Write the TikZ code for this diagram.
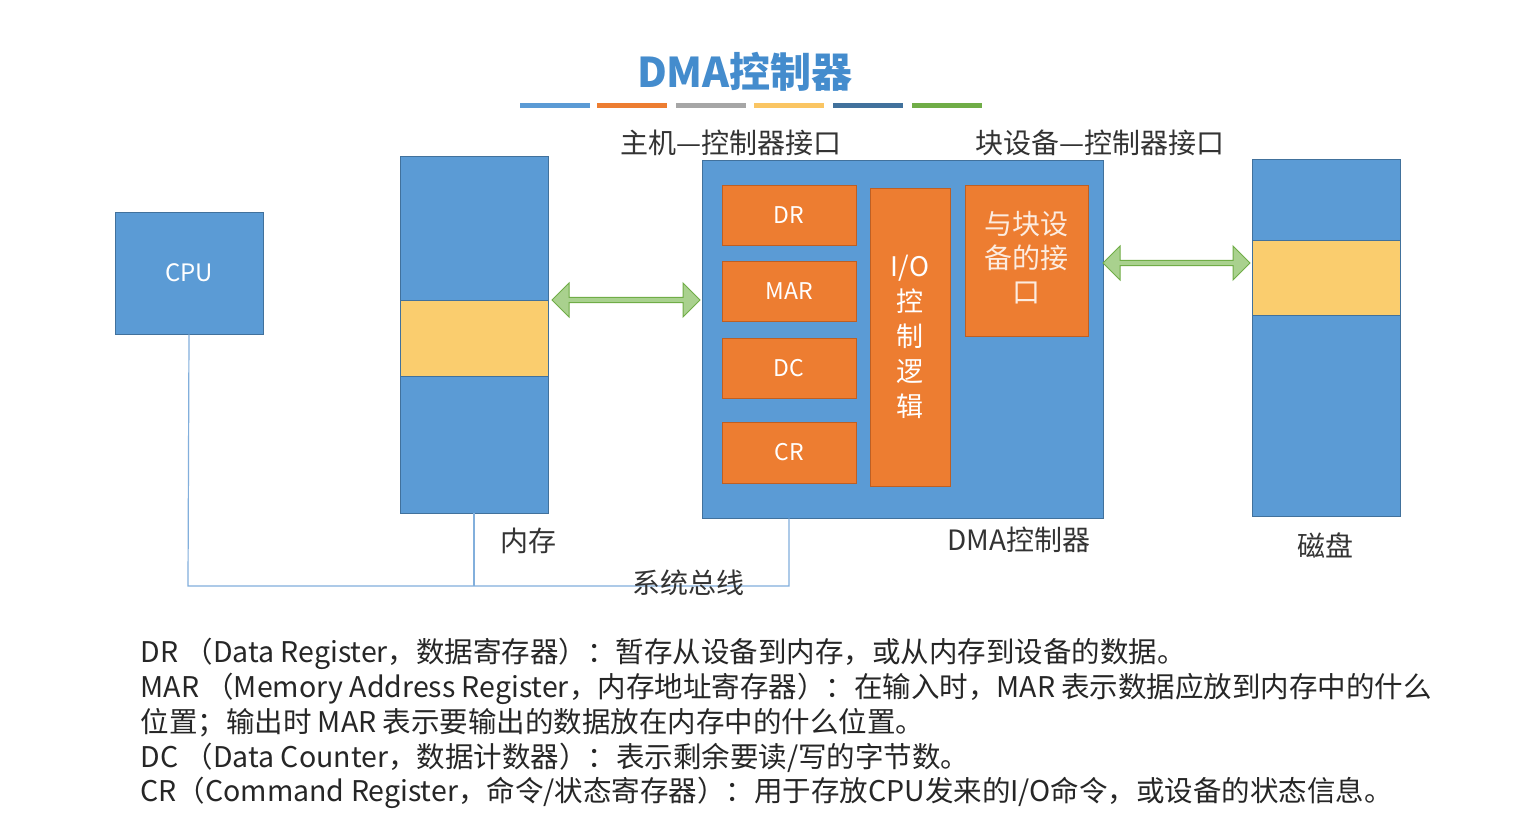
\documentclass[tikz,border=0pt]{standalone}
\usepackage{fontspec}
\setmainfont{Noto Sans CJK SC}
\usetikzlibrary{shapes.arrows}
\definecolor{bl}{RGB}{91,155,213}
\definecolor{blb}{RGB}{65,113,156}
\definecolor{og}{RGB}{237,125,49}
\definecolor{ogb}{RGB}{190,95,35}
\definecolor{yl}{RGB}{250,205,110}
\definecolor{gr}{RGB}{169,209,142}
\definecolor{grb}{RGB}{112,173,71}
\definecolor{tt}{RGB}{68,140,205}
\definecolor{bus}{RGB}{130,175,220}
\tikzset{
 box/.style={draw=blb,fill=bl,line width=0.8pt,inner sep=0pt},
 reg/.style={draw=ogb,fill=og,line width=0.8pt,inner sep=0pt,text=white,font=\fontsize{23}{26}\selectfont,align=center},
 band/.style={draw=blb,fill=yl,line width=0.8pt},
 lbl/.style={font=\fontsize{28}{32}\selectfont,text=black!80},
 darr/.style={double arrow,draw=grb,fill=gr,line width=1pt,minimum height=148pt,minimum width=34pt,double arrow head extend=4pt,inner sep=0pt,shape border uses incircle},
 bline/.style={draw=bus,line width=1.2pt},
 txt/.style={anchor=west,font=\fontsize{28.5}{30}\selectfont,text=black!85}
}
\begin{document}
\begin{tikzpicture}[x=1pt,y=-1pt]
\useasboundingbox[fill=white] (0,0) rectangle (1521,818);
\node[font=\bfseries\fontsize{41}{44}\selectfont,text=tt] (title) at (745,72) {DMA控制器};
\foreach \a/\c in {520/bl,597/og,676/gray!70,754/yl!90!orange,833/blb,912/grb}
  \draw[line width=5pt,\c] (\a,106) -- ++(70,0);
\node[box,minimum width=148pt,minimum height=122pt,text=white,font=\fontsize{24}{26}\selectfont] (cpu) at (189,273) {CPU};
\node[box,minimum width=148pt,minimum height=357pt] (mem) at (474,334.5) {};
\draw[band] (400,300) rectangle (548,376);
\node[box,minimum width=401pt,minimum height=358pt] (dma) at (902.5,339) {};
\node[reg,minimum width=134pt,minimum height=60pt] (dr) at (789,215) {DR};
\node[reg,minimum width=134pt,minimum height=60pt] (mar) at (789,291) {MAR};
\node[reg,minimum width=134pt,minimum height=60pt] (dc) at (789,368) {DC};
\node[reg,minimum width=134pt,minimum height=61pt] (cr) at (789,452.5) {CR};
\node[reg,minimum width=80pt,minimum height=298pt,font=\fontsize{27}{35}\selectfont] (io) at (910,337) {I/O\\控\\制\\逻\\辑};
\node[reg,minimum width=123pt,minimum height=151pt,anchor=north,font=\fontsize{28}{34}\selectfont,text=white!85!og] (itf) at (1026.5,185) {\\[-18pt]与块设\\备的接\\口};
\node[box,minimum width=148pt,minimum height=357pt] (disk) at (1326,337.5) {};
\draw[band] (1252,240) rectangle (1400,315);
\node[darr] (a1) at (626,300) {};
\node[darr,minimum height=147pt] (a2) at (1176.5,263) {};
\node[lbl] (l1) at (731,143) {主机—控制器接口};
\node[lbl] (l2) at (1100,143) {块设备—控制器接口};
\node[lbl] (l3) at (528,541) {内存};
\node[lbl] (l4) at (1019,540) {DMA控制器};
\node[lbl] (l5) at (1325,545) {磁盘};
\coordinate (c1) at (188,586);
\coordinate (c2) at (789,586);
\coordinate (c3) at (474,586);
\draw[bline] (cpu.south) -- (c1) -- (c2) -- (dma.south -| c2);
\draw[bline] (mem.south) -- (c3);
\node[lbl] (l6) at (688,583) {系统总线};
\node[txt] (t1) at (137,654) {DR （Data Register，数据寄存器）：暂存从设备到内存，或从内存到设备的数据。};
\node[txt] (t2) at (137,689) {MAR （Memory Address Register，内存地址寄存器）：在输入时，MAR 表示数据应放到内存中的什么};
\node[txt] (t3) at (137,723) {位置；输出时 MAR 表示要输出的数据放在内存中的什么位置。};
\node[txt] (t4) at (137,758) {DC （Data Counter，数据计数器）：表示剩余要读/写的字节数。};
\node[txt] (t5) at (137,793) {CR（Command Register，命令/状态寄存器）：用于存放CPU发来的I/O命令，或设备的状态信息。};
\end{tikzpicture}
\end{document}
